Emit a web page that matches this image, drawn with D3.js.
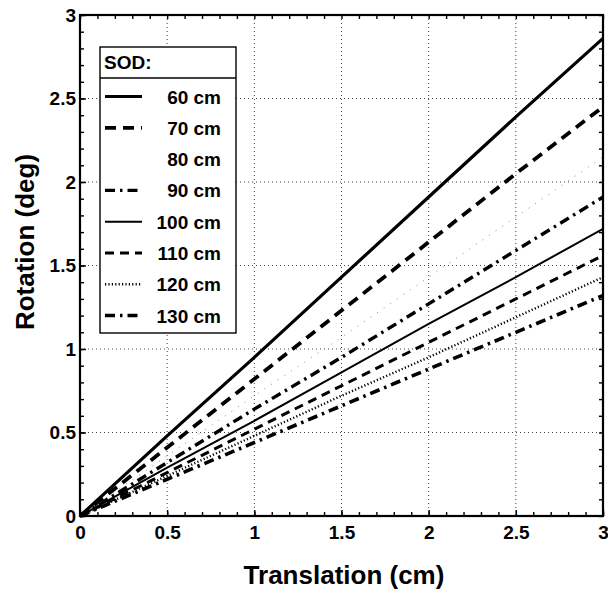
<!DOCTYPE html>
<html>
<head>
<meta charset="utf-8">
<script src="https://cdn.jsdelivr.net/npm/d3@7"></script>
<style>
  html, body { margin: 0; padding: 0; background: #fff; }
  svg { display: block; font-family: "Liberation Sans", Arial, sans-serif; }
</style>
</head>
<body>
<svg id="chart" width="608" height="590"></svg>
<script>
// Translation sample positions (cm)
const translation = [0, 0.5, 1, 1.5, 2, 2.5, 3];

// Rotation (deg) per source-to-object distance
const rot60  = [0, 0.48, 0.95, 1.43, 1.91, 2.39, 2.86];
const rot70  = [0, 0.41, 0.82, 1.23, 1.64, 2.05, 2.45];
const rot80  = [0, 0.36, 0.72, 1.07, 1.43, 1.79, 2.15];
const rot90  = [0, 0.32, 0.64, 0.95, 1.27, 1.59, 1.91];
const rot100 = [0, 0.29, 0.57, 0.86, 1.15, 1.43, 1.72];
const rot110 = [0, 0.26, 0.52, 0.78, 1.04, 1.30, 1.56];
const rot120 = [0, 0.24, 0.48, 0.72, 0.95, 1.19, 1.43];
const rot130 = [0, 0.22, 0.44, 0.66, 0.88, 1.10, 1.32];

const sodLabels = ["60 cm", "70 cm", "80 cm", "90 cm", "100 cm", "110 cm", "120 cm", "130 cm"];
const xTickLabels = ["0", "0.5", "1", "1.5", "2", "2.5", "3"];
const yTickLabels = ["0", "0.5", "1", "1.5", "2", "2.5", "3"];

// Line styles for each series
const styles = [
  { w: 3.2, dash: null },
  { w: 3.8, dash: "11,7" },
  { w: 1.0, dash: "1,7", color: "#888" },
  { w: 3.4, dash: "10,5,2.5,5" },
  { w: 2.0, dash: null },
  { w: 3.0, dash: "9,6" },
  { w: 2.4, dash: "1.2,2.2" },
  { w: 3.6, dash: "10,5,2.5,5" }
];

const seriesValues = [rot60, rot70, rot80, rot90, rot100, rot110, rot120, rot130];
const series = sodLabels.map((name, i) => ({
  name,
  style: styles[i],
  points: translation.map((t, j) => [t, seriesValues[i][j]])
}));

const svg = d3.select("#chart");
const plotL = 80, plotR = 603, plotT = 15, plotB = 516;
const FONT = "Liberation Sans, Arial, sans-serif";

const x = d3.scaleLinear().domain([0, 3]).range([plotL, plotR]);
const y = d3.scaleLinear().domain([0, 3]).range([plotB, plotT]);

const majors = [0, 0.5, 1, 1.5, 2, 2.5, 3];
const minors = d3.range(0, 31).map(d => d / 10);

// Dotted grid
const grid = svg.append("g").attr("stroke", "#444").attr("stroke-width", 1)
  .attr("stroke-dasharray", "1,3");
majors.slice(1, -1).forEach(v => {
  grid.append("line").attr("x1", x(v)).attr("x2", x(v)).attr("y1", plotT).attr("y2", plotB);
  grid.append("line").attr("x1", plotL).attr("x2", plotR).attr("y1", y(v)).attr("y2", y(v));
});

// Series lines
const line = d3.line().x(d => x(d[0])).y(d => y(d[1]));
svg.append("g").selectAll("path").data(series).join("path")
  .attr("d", d => line(d.points))
  .attr("fill", "none")
  .attr("stroke", d => d.style.color || "#000")
  .attr("stroke-width", d => d.style.w)
  .attr("stroke-dasharray", d => d.style.dash)
  .attr("stroke-linecap", "butt");

// Inward minor ticks on all four sides
function tickSet(axisFn, scale, transform) {
  const g = svg.append("g").attr("transform", transform);
  g.call(axisFn(scale).tickValues(minors).tickSize(-4).tickFormat(""));
  g.select(".domain").remove();
  g.selectAll("line").attr("stroke", "#000").attr("stroke-width", 1.4);
  return g;
}
tickSet(d3.axisBottom, x, `translate(0,${plotB})`);
tickSet(d3.axisTop, x, `translate(0,${plotT})`);
tickSet(d3.axisLeft, y, `translate(${plotL},0)`);
tickSet(d3.axisRight, y, `translate(${plotR},0)`);

// Major ticks and labels
const xAxis = svg.append("g").attr("transform", `translate(0,${plotB})`)
  .call(d3.axisBottom(x).tickValues(majors).tickSize(-6).tickPadding(10)
    .tickFormat((d, i) => xTickLabels[i]));
xAxis.select(".domain").remove();
xAxis.selectAll("line").attr("stroke", "#000").attr("stroke-width", 1.4);
xAxis.selectAll("text").attr("font-size", 19).attr("font-weight", "bold")
  .attr("font-family", FONT).attr("fill", "#000");

const yAxis = svg.append("g").attr("transform", `translate(${plotL},0)`)
  .call(d3.axisLeft(y).tickValues(majors).tickSize(-6).tickPadding(4)
    .tickFormat((d, i) => yTickLabels[i]));
yAxis.select(".domain").remove();
yAxis.selectAll("line").attr("stroke", "#000").attr("stroke-width", 1.4);
yAxis.selectAll("text").attr("font-size", 19).attr("font-weight", "bold")
  .attr("font-family", FONT).attr("fill", "#000");

// Frame
svg.append("rect").attr("x", plotL).attr("y", plotT)
  .attr("width", plotR - plotL).attr("height", plotB - plotT)
  .attr("fill", "none").attr("stroke", "#000").attr("stroke-width", 2.2);

// Axis titles
svg.append("text").attr("x", 344).attr("y", 584)
  .attr("text-anchor", "middle").attr("font-size", 26).attr("font-weight", "bold")
  .text("Translation (cm)");
svg.append("text").attr("transform", `translate(34,242) rotate(-90)`)
  .attr("text-anchor", "middle").attr("font-size", 26).attr("font-weight", "bold")
  .text("Rotation (deg)");

// Legend
const lg = svg.append("g");
const lx0 = 100, lx1 = 236, ly0 = 47, ly1 = 333, lhead = 78;
lg.append("rect").attr("x", lx0).attr("y", ly0).attr("width", lx1 - lx0).attr("height", ly1 - ly0)
  .attr("fill", "#fff").attr("stroke", "#000").attr("stroke-width", 1.4);
lg.append("line").attr("x1", lx0).attr("x2", lx1).attr("y1", lhead).attr("y2", lhead)
  .attr("stroke", "#000").attr("stroke-width", 1.4);
lg.append("text").attr("x", lx0 + 4).attr("y", 69).attr("font-size", 19).attr("font-weight", "bold")
  .text("SOD:");

const rowY = d3.scaleLinear().domain([0, 7]).range([96.5, 315.5]);
const rows = lg.selectAll("g.row").data(series).join("g").attr("class", "row")
  .attr("transform", (d, i) => `translate(0,${rowY(i)})`);
rows.filter((d, i) => i !== 2).append("line")
  .attr("x1", 105).attr("x2", 142).attr("y1", 0).attr("y2", 0)
  .attr("stroke", d => d.style.color || "#000")
  .attr("stroke-width", d => d.style.w)
  .attr("stroke-dasharray", d => d.style.dash);
rows.append("text").attr("x", 221).attr("y", 7).attr("text-anchor", "end")
  .attr("font-size", 19).attr("font-weight", "bold").text(d => d.name);
</script>
</body>
</html>
